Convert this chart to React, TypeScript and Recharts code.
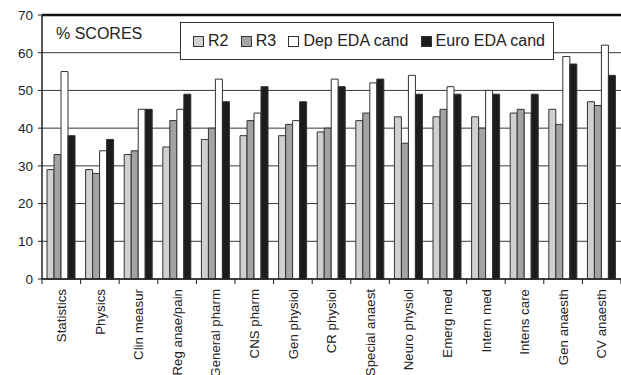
import React from "react";
import { BarChart, Bar, XAxis, YAxis, CartesianGrid, ReferenceLine } from "recharts";

const categories = [
  "Statistics", "Physics", "Clin measur", "Reg anae/pain", "General pharm", "CNS pharm",
  "Gen physiol", "CR physiol", "Special anaest", "Neuro physiol", "Emerg med", "Intern med",
  "Intens care", "Gen anaesth", "CV anaesth",
];
const r2 = [29, 29, 33, 35, 37, 38, 38, 39, 42, 43, 43, 43, 44, 45, 47];
const r3 = [33, 28, 34, 42, 40, 42, 41, 40, 44, 36, 45, 40, 45, 41, 46];
const depEda = [55, 34, 45, 45, 53, 44, 42, 53, 52, 54, 51, 50, 44, 59, 62];
const euroEda = [38, 37, 45, 49, 47, 51, 47, 51, 53, 49, 49, 49, 49, 57, 54];
const yTicks = [0, 10, 20, 30, 40, 50, 60, 70];

const series = [
  { key: "r2", name: "R2", color: "#d0d0d0" },
  { key: "r3", name: "R3", color: "#a3a3a3" },
  { key: "dep", name: "Dep EDA cand", color: "#ffffff" },
  { key: "euro", name: "Euro EDA cand", color: "#1c1c1c" },
];

const data = categories.map((c, i) => ({
  name: c,
  r2: r2[i],
  r3: r3[i],
  dep: depEda[i],
  euro: euroEda[i],
}));

const FONT = "'Liberation Sans', Arial, Helvetica, sans-serif";
const PLOT_LEFT = 42;
const PLOT_RIGHT = 621;
const BAND = (PLOT_RIGHT - PLOT_LEFT) / categories.length;

const XTick = (props: any) => {
  const { x, y, payload, index } = props;
  return (
    <g transform={`translate(${x},${y})`}>
      <line x1={-BAND / 2} y1={0} x2={-BAND / 2} y2={5} stroke="#222" strokeWidth={1} />
      {index === categories.length - 1 && (
        <line x1={BAND / 2} y1={0} x2={BAND / 2} y2={5} stroke="#222" strokeWidth={1} />
      )}
      <text
        transform="rotate(-90)"
        x={-10}
        y={0}
        dy="0.35em"
        textAnchor="end"
        fontSize={13.3}
        fontFamily={FONT}
        fill="#222"
      >
        {payload.value}
      </text>
    </g>
  );
};

const LegendBox = () => (
  <div
    style={{
      position: "absolute",
      left: 180,
      top: 22,
      width: 374,
      height: 38,
      background: "#fff",
      border: "1px solid #333",
      boxSizing: "border-box",
      display: "flex",
      alignItems: "center",
      justifyContent: "space-between",
      padding: "0 8px 0 12px",
      fontFamily: FONT,
      fontSize: 16,
      color: "#222",
    }}
  >
    {series.map((s) => (
      <span key={s.key} style={{ display: "flex", alignItems: "center" }}>
        <span
          style={{
            display: "inline-block",
            width: 9,
            height: 9,
            background: s.color,
            border: "1px solid #333",
            marginRight: 4,
          }}
        />
        {s.name}
      </span>
    ))}
  </div>
);

export default function App() {
  return (
    <div style={{ position: "absolute", left: 0, top: 0, width: 621, height: 375, background: "#fff", overflow: "hidden" }}>
      <BarChart
        width={621}
        height={375}
        data={data}
        margin={{ top: 15, right: 0, bottom: 0, left: 0 }}
        barCategoryGap="13%"
        barGap={0}
      >
        <CartesianGrid vertical={false} stroke="#222" strokeWidth={1} strokeOpacity={0.9} />
        <YAxis
          domain={[0, 70]}
          ticks={yTicks}
          width={42}
          tickSize={4}
          tickMargin={5}
          axisLine={{ stroke: "#222", strokeWidth: 1.5 }}
          tickLine={{ stroke: "#222" }}
          tick={{ fontSize: 13.5, fontFamily: FONT, fill: "#222" }}
          interval={0}
        />
        <XAxis
          dataKey="name"
          height={96}
          interval={0}
          tickSize={0}
          tickMargin={0}
          tickLine={false}
          axisLine={{ stroke: "#222", strokeWidth: 1.5 }}
          tick={<XTick />}
        />
        {series.map((s) => (
          <Bar
            key={s.key}
            dataKey={s.key}
            name={s.name}
            fill={s.color}
            stroke="#333"
            strokeWidth={1}
            isAnimationActive={false}
          />
        ))}
        <ReferenceLine y={70} stroke="#111" strokeWidth={2.5} />
      </BarChart>
      <LegendBox />
      <div
        style={{
          position: "absolute",
          left: 56,
          top: 25,
          fontFamily: FONT,
          fontSize: 16,
          color: "#222",
          pointerEvents: "none",
        }}
      >
        % SCORES
      </div>
    </div>
  );
}
